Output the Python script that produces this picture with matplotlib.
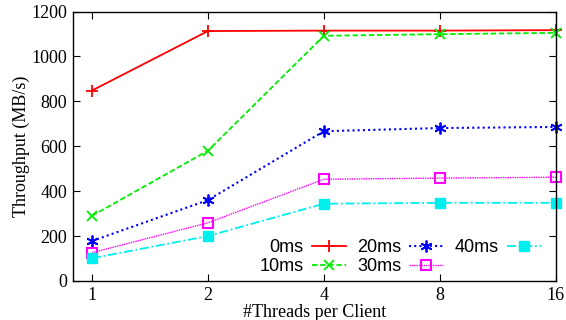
import matplotlib
matplotlib.use("Agg")
import matplotlib.pyplot as plt
from matplotlib.ticker import FixedLocator, FixedFormatter, NullLocator

threads = [1, 2, 4, 8, 16]
thread_labels = ["1", "2", "4", "8", "16"]
lat_0ms = [848, 1113, 1115, 1115, 1117]
lat_10ms = [290, 580, 1092, 1099, 1105]
lat_20ms = [178, 360, 667, 681, 686]
lat_30ms = [126, 259, 453, 458, 462]
lat_40ms = [101, 200, 344, 348, 348]
series_names = ["0ms", "10ms", "20ms", "30ms", "40ms"]

fig = plt.figure(figsize=(5.66, 3.2), dpi=100)
ax = fig.add_axes([0.129, 0.122, 0.853, 0.842])

styles = [
    dict(color="#ff0000", linestyle="-", marker="+", ms=8, mfc="none", mew=1.3, lw=1.3),
    dict(color="#00ee00", linestyle=(0, (3, 1.5)), marker="x", ms=7, mfc="none", mew=1.3, lw=1.3),
    dict(color="#0000ff", linestyle=(0, (1, 1.5)), marker=(6, 2, 0), ms=8.5, mfc="none", mew=1.3, lw=1.5),
    dict(color="#ff00ff", linestyle=(0, (1, 0.7)), marker="s", ms=7, mfc="none", mew=1.5, lw=1.0),
    dict(color="#00eeee", linestyle=(0, (5, 1.5, 1, 1.5)), marker="s", ms=7, mfc="#00eeee", mew=1.0, lw=1.3),
]
data = [lat_0ms, lat_10ms, lat_20ms, lat_30ms, lat_40ms]
for name, vals, st in zip(series_names, data, styles):
    ax.plot(threads, vals, label=name, clip_on=False, **st)

ax.set_xscale("log", base=2)
ax.set_xlim(0.893, 16)
ax.set_ylim(0, 1200)
ax.xaxis.set_major_locator(FixedLocator(threads))
ax.xaxis.set_major_formatter(FixedFormatter(thread_labels))
ax.xaxis.set_minor_locator(NullLocator())
ax.set_yticks(range(0, 1201, 200))

serif = ["Liberation Serif", "DejaVu Serif"]
for lab in ax.get_xticklabels() + ax.get_yticklabels():
    lab.set_family(serif)
    lab.set_fontsize(13)
ax.tick_params(direction="in", top=True, right=True, length=5, width=0.8, pad=4)
ax.set_xlabel("#Threads per Client", family=serif, fontsize=13, labelpad=0)
ax.set_ylabel("Throughput (MB/s)", family=serif, fontsize=13, labelpad=1)
for sp in ax.spines.values():
    sp.set_linewidth(1.0)

leg = ax.legend(loc="lower right", ncol=3, markerfirst=False, frameon=False,
                prop={"family": "Liberation Sans", "size": 13},
                handlelength=1.9, columnspacing=0.6, handletextpad=0.45,
                labelspacing=0.1, borderaxespad=0.0, bbox_to_anchor=(0.984, -0.005))

fig.savefig("out.png", dpi=100)
